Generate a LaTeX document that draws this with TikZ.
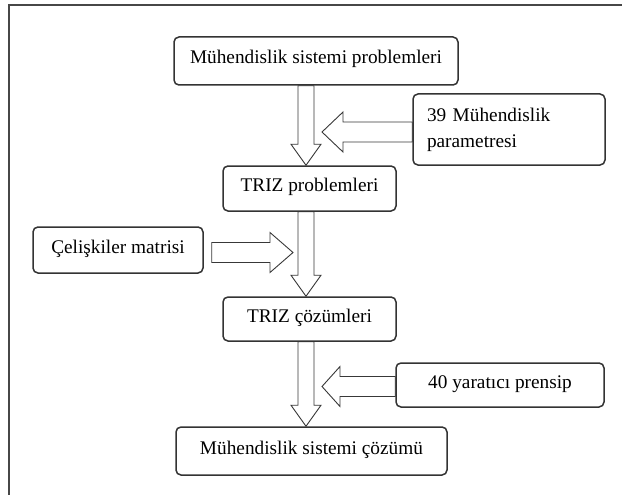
\documentclass[tikz,border=0pt]{standalone}
\usepackage{fontspec}
\setmainfont{Liberation Serif}
\usetikzlibrary{calc,backgrounds}

% hollow block arrow pointing down: #1 start point, #2 tip
\newcommand\downblock[2]{%
  \draw[blk] let \p1=(#1), \p2=(#2) in
    (\x2-8pt,\y1) -- (\x2-8pt,\y2+21pt) -- (\x2-15pt,\y2+21pt) -- (\x2,\y2)
    -- (\x2+15pt,\y2+21pt) -- (\x2+8pt,\y2+21pt) -- (\x2+8pt,\y1) -- cycle;}
% hollow block arrow pointing left: #1 start point, #2 tip, #3 head length
\newcommand\leftblock[3]{%
  \draw[blk] let \p1=(#1), \p2=(#2) in
    (\x1,\y2+10pt) -- (\x2+#3,\y2+10pt) -- (\x2+#3,\y2+20pt) -- (\x2,\y2)
    -- (\x2+#3,\y2-20pt) -- (\x2+#3,\y2-10pt) -- (\x1,\y2-10pt) -- cycle;}
% hollow block arrow pointing right: #1 start point, #2 tip, #3 head length
\newcommand\rightblock[3]{%
  \draw[blk] let \p1=(#1), \p2=(#2) in
    (\x1,\y2+10pt) -- (\x2-#3,\y2+10pt) -- (\x2-#3,\y2+20pt) -- (\x2,\y2)
    -- (\x2-#3,\y2-20pt) -- (\x2-#3,\y2-10pt) -- (\x1,\y2-10pt) -- cycle;}

\begin{document}
\begin{tikzpicture}[x=1pt,y=-1pt,
  box/.style={draw=black!80, line width=1.5pt, rounded corners=5pt, fill=white,
    inner sep=0pt, text height=18pt, text depth=12pt,
    font=\fontsize{19.3}{26}\selectfont},
  blk/.style={draw=black!78, line width=0.9pt, fill=white, line join=miter}]

\useasboundingbox (0,0) rectangle (622,495);
\draw[black!72, line width=2pt] (9,495) -- (9,5) -- (622,5);

% process boxes
\node[box, minimum width=284pt, minimum height=48pt] (msp) at (316,61)
  {Mühendislik sistemi problemleri};
\node[box, minimum width=192pt, minimum height=71pt, text height={}, text depth={},
  text width=164pt, align=left] (par) at (509,129.5)
  {39 Mühendislik\\parametresi};
\node[box, minimum width=173pt, minimum height=45pt] (trizp) at (309.5,188.5)
  {TRIZ problemleri};
\node[box, minimum width=170pt, minimum height=46pt] (cel) at (118,250)
  {Çelişkiler matrisi};
\node[box, minimum width=173pt, minimum height=44pt] (trizc) at (309.5,319)
  {TRIZ çözümleri};
\node[box, minimum width=208pt, minimum height=44pt] (yar) at (500,385)
  {40 yaratıcı prensip};
\node[box, minimum width=271pt, minimum height=48pt] (msc) at (311.5,451)
  {Mühendislik sistemi çözümü};

% arrow axis and tips of the side arrows
\coordinate (ax) at (306,0);
\coordinate (tipA) at (322,132);
\coordinate (tipB) at (293,252.5);
\coordinate (tipC) at (322,386.5);

\begin{pgfonlayer}{background}
  \downblock{msp.south -| ax}{trizp.north -| ax}
  \downblock{trizp.south -| ax}{trizc.north -| ax}
  \downblock{trizc.south -| ax}{msc.north -| ax}
  \leftblock{par.west |- tipA}{tipA}{21pt}
  \rightblock{$(cel.east |- tipB)+(8,0)$}{tipB}{23pt}
  \leftblock{yar.west |- tipC}{tipC}{18pt}
\end{pgfonlayer}
\end{tikzpicture}
\end{document}
